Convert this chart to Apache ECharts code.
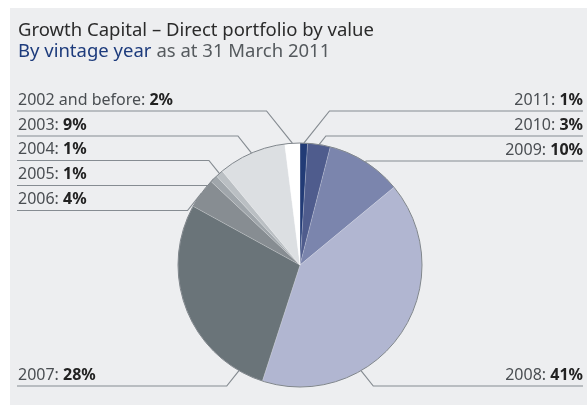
<!DOCTYPE html>
<html>
<head>
<meta charset="utf-8">
<script src="https://cdn.jsdelivr.net/npm/echarts@6/dist/echarts.min.js"></script>
<style>
  html, body { margin: 0; padding: 0; background: #fff; }
  #pie { width: 587px; height: 405px; }
</style>
</head>
<body>
<div id="pie"></div>
<script>
// vintage years, clockwise from 12 o'clock
var years = ["2011", "2010", "2009", "2008", "2007", "2006", "2005", "2004", "2003", "2002 and before"];
var shares = [1, 3, 10, 41, 28, 4, 1, 1, 9, 2];
var colours = ["#223b76", "#4f5c8d", "#7b85ad", "#b1b6d1", "#6a7479", "#878d92", "#a0a6ab", "#babfc3", "#dcdfe2", "#ffffff"];

var font = "Noto Sans";
var cx = 300, cy = 265, R = 122;

// rows the labels sit on (y of the rule under each label)
var rightRows = [111, 136, 161];
var leftRows = [111, 136, 160.5, 185.5, 210.5];
var bottomRow = 386;

function slot(i) {
  if (i < 3) return { side: "right", y: rightRows[i] };
  if (i === 3) return { side: "right", y: bottomRow, low: true };
  if (i === 4) return { side: "left", y: bottomRow, low: true };
  return { side: "left", y: leftRows[9 - i] };
}

var total = shares.reduce(function (a, b) { return a + b; }, 0);
function midAngle(i) {
  var before = 0;
  for (var k = 0; k < i; k++) before += shares[k];
  return (before + shares[i] / 2) / total * 360;
}

var myChart = echarts.init(document.getElementById("pie"));

var option = {
  animation: false,
  graphic: [
    {
      type: "rect",
      z: -10,
      shape: { x: 10, y: 8, width: 577, height: 397 },
      style: { fill: "#edeef0" }
    }
  ],
  title: [
    {
      text: "Growth Capital \u2013 Direct portfolio by value",
      left: 18,
      top: 21,
      padding: 0,
      textStyle: { fontFamily: font, fontSize: 18.5, fontWeight: "normal", color: "#2b2b2b" }
    },
    {
      text: "{a|By vintage year} {b|as at 31 March 2011}",
      left: 18,
      top: 42,
      padding: 0,
      textStyle: {
        fontWeight: "normal",
        rich: {
          a: { fontFamily: font, fontSize: 18.5, fontWeight: "normal", color: "#1d3b7c" },
          b: { fontFamily: font, fontSize: 18.5, fontWeight: "normal", color: "#555a5e" }
        }
      }
    }
  ],
  series: [
    {
      type: "pie",
      center: [cx, cy],
      radius: R,
      startAngle: 90,
      clockwise: true,
      avoidLabelOverlap: false,
      itemStyle: { borderColor: "rgba(255,255,255,0.35)", borderWidth: 0.5 },
      label: {
        show: true,
        position: "outside",
        formatter: function (p) {
          return "{n|" + p.name + ": }{v|" + p.value + "%}";
        },
        rich: {
          n: { fontFamily: font, fontSize: 16, fontWeight: "normal", color: "#4a4e52" },
          v: { fontFamily: font, fontSize: 16, fontWeight: "bold", color: "#222" }
        }
      },
      labelLine: {
        show: true,
        length: 8,
        length2: 8,
        lineStyle: { color: "#868c92", width: 1.2 }
      },
      labelLayout: function (p) {
        var s = slot(p.dataIndex);
        var a = midAngle(p.dataIndex);
        if (s.low) a = Math.min(Math.max(a, 150), 210);
        var rad = a * Math.PI / 180;
        var ax = cx + R * Math.sin(rad);
        var ay = cy - R * Math.cos(rad);
        var dy = Math.abs(s.y - ay) * 0.8;
        var right = s.side === "right";
        return {
          x: right ? 583 : 18,
          y: s.y - 3,
          align: right ? "right" : "left",
          verticalAlign: "bottom",
          labelLinePoints: [[ax, ay], [right ? ax + dy : ax - dy, s.y], [right ? 583 : 17, s.y]]
        };
      },
      data: years.map(function (y, i) {
        return { name: y, value: shares[i], itemStyle: { color: colours[i] } };
      })
    },
    {
      // thin outline round the pie
      type: "pie",
      center: [cx, cy],
      radius: R,
      silent: true,
      z: 3,
      label: { show: false },
      labelLine: { show: false },
      itemStyle: { color: "rgba(0,0,0,0)", borderColor: "#80868c", borderWidth: 1 },
      data: [{ value: 1, name: "outline" }]
    }
  ]
};

myChart.setOption(option);
</script>
</body>
</html>
